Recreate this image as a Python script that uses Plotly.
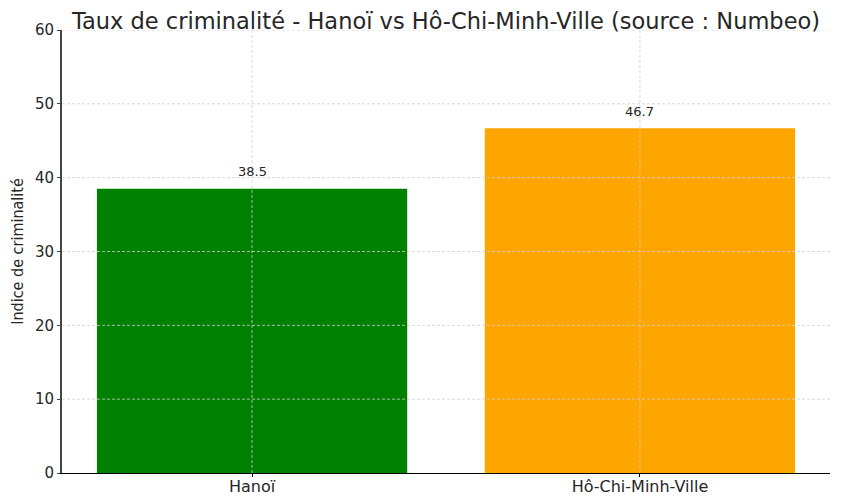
import plotly.graph_objects as go

# données
villes = ['Hanoï', 'Hô-Chi-Minh-Ville']
indices = [38.5, 46.7]
couleurs = ['#008000', '#FFA500']
y_ticks = [0, 10, 20, 30, 40, 50, 60]

fig = go.Figure()
fig.add_trace(go.Bar(x=villes, y=indices, marker_color=couleurs, marker_line_width=0,
                     width=0.8, showlegend=False))

# étiquettes de valeur au-dessus des barres
for v, val in zip(villes, indices):
    fig.add_annotation(x=v, y=val + 1, text=f'{val}', showarrow=False, yanchor='bottom',
                       font=dict(family='DejaVu Sans', size=13, color='#262626'))

# grille pointillée par-dessus les barres (comme matplotlib)
grid = dict(color='#cfcfcf', width=0.8, dash='3px,2px')
for t in y_ticks[1:]:
    fig.add_shape(type='line', xref='x domain', x0=0, x1=1, yref='y', y0=t, y1=t,
                  line=grid, layer='above')
for i in range(len(villes)):
    fig.add_shape(type='line', xref='x', x0=i, x1=i, yref='y domain', y0=0, y1=1,
                  line=grid, layer='above')

fig.update_layout(
    width=850, height=500,
    margin=dict(l=54, r=28, t=22, b=35, autoexpand=False),
    plot_bgcolor='white', paper_bgcolor='white',
    font=dict(family='DejaVu Sans', color='#262626'),
    title=dict(text='Taux de criminalité - Hanoï vs Hô-Chi-Minh-Ville (source : Numbeo)',
               x=0.5, xref='paper', xanchor='center', y=0.973, yanchor='middle',
               font=dict(size=22.5, color='#262626')),
    bargap=0.2,
)
fig.update_xaxes(range=[-0.49, 1.49], showgrid=False, showline=True, linecolor='black',
                 linewidth=1, ticks='outside', ticklen=3, tickcolor='black',
                 tickfont=dict(size=16), zeroline=False, automargin=False,
                 ticklabelstandoff=-4)
fig.update_yaxes(range=[0, 60], tickvals=y_ticks, showgrid=False, showline=True,
                 linecolor='#444444', linewidth=2, ticks='outside', ticklen=3,
                 tickcolor='#444444', tickfont=dict(size=15), zeroline=False,
                 automargin=False,
                 title=dict(text='Indice de criminalité', standoff=8,
                            font=dict(family='DejaVu Sans Condensed, Liberation Sans Narrow, DejaVu Sans',
                                      size=16)))

fig.write_html('out.html')
